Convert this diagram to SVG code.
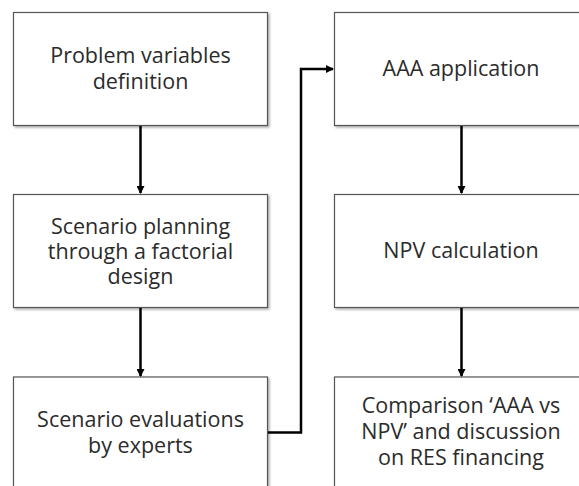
<svg xmlns="http://www.w3.org/2000/svg" width="579" height="486" viewBox="0 0 579 486">
<defs>
<marker id="ah" markerWidth="8" markerHeight="8" refX="7" refY="4" orient="auto" markerUnits="userSpaceOnUse">
<path d="M0,0 L8,4 L0,8 Z" fill="#000"/>
</marker>
<filter id="sh" x="-5%" y="-5%" width="115%" height="115%">
<feDropShadow dx="1.5" dy="1.5" stdDeviation="1" flood-color="#000" flood-opacity="0.35"/>
</filter>
</defs>
<style>
.box{fill:#fff;stroke:#555;stroke-width:1.2;filter:url(#sh)}
.t{font-family:"Open Sans","Noto Sans","DejaVu Sans",sans-serif;font-size:21.5px;fill:#2b2b2b;text-anchor:middle}
.c{fill:none;stroke:#000;stroke-width:2.5}
</style>
<rect width="579" height="486" fill="#fff"/>
<g id="n1"><rect class="box" x="13.5" y="12.5" width="254" height="113"/>
<text class="t" x="140.5" y="62.5">Problem variables</text>
<text class="t" x="140.5" y="88.5">definition</text></g>
<g id="n2"><rect class="box" x="13.5" y="194.5" width="254" height="113"/>
<text class="t" x="140.5" y="233.5">Scenario planning</text>
<text class="t" x="140.5" y="259">through a factorial</text>
<text class="t" x="140.5" y="284">design</text></g>
<g id="n3"><rect class="box" x="13.5" y="377" width="254" height="120"/>
<text class="t" x="140.5" y="427">Scenario evaluations</text>
<text class="t" x="140.5" y="453">by experts</text></g>
<g id="n4"><rect class="box" x="334.5" y="12.5" width="254" height="113"/>
<text class="t" x="461" y="76">AAA application</text></g>
<g id="n5"><rect class="box" x="334.5" y="194.5" width="254" height="113"/>
<text class="t" x="461" y="258">NPV calculation</text></g>
<g id="n6"><rect class="box" x="334.5" y="377" width="254" height="120"/>
<text class="t" x="461" y="413">Comparison ‘AAA vs</text>
<text class="t" x="461" y="439">NPV’ and discussion</text>
<text class="t" x="461" y="465">on RES financing</text></g>
<g id="connectors">
<line class="c" x1="140.5" y1="126" x2="140.5" y2="193" marker-end="url(#ah)"/>
<line class="c" x1="140.5" y1="308" x2="140.5" y2="376" marker-end="url(#ah)"/>
<line class="c" x1="461.5" y1="126" x2="461.5" y2="193" marker-end="url(#ah)"/>
<line class="c" x1="461.5" y1="308" x2="461.5" y2="376" marker-end="url(#ah)"/>
<polyline class="c" points="268,432.5 301,432.5 301,69 333,69" marker-end="url(#ah)"/>
</g>
</svg>
